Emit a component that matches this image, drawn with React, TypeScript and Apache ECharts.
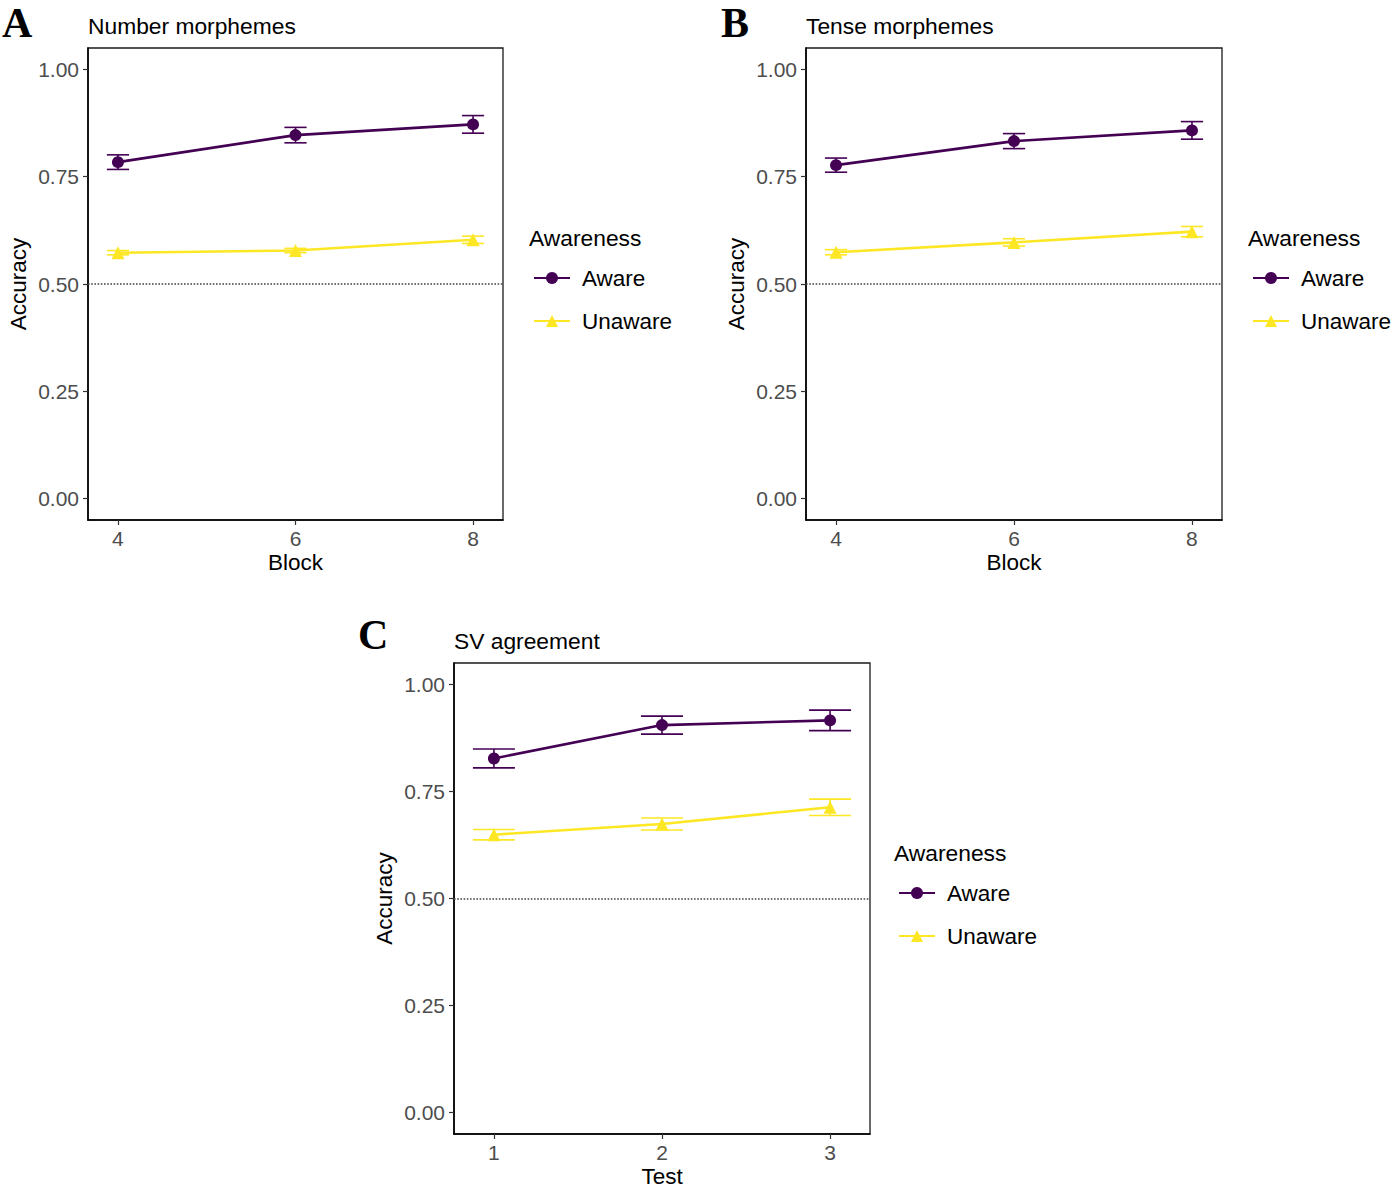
import React, { useEffect, useRef } from "react";
import * as echarts from "echarts";

// ---- data ----
const blocks = [4, 6, 8];
const tests = [1, 2, 3];
const yTicks = [0, 0.25, 0.5, 0.75, 1];
const chance = 0.5;

const numberAware = [0.784, 0.847, 0.872];
const numberAwareSE = [0.017, 0.018, 0.0205];
const numberUnaware = [0.573, 0.578, 0.603];
const numberUnawareSE = [0.005, 0.005, 0.0085];

const tenseAware = [0.777, 0.833, 0.858];
const tenseAwareSE = [0.0165, 0.0175, 0.0205];
const tenseUnaware = [0.574, 0.597, 0.622];
const tenseUnawareSE = [0.006, 0.0085, 0.012];

const svAware = [0.827, 0.905, 0.916];
const svAwareSE = [0.022, 0.021, 0.024];
const svUnaware = [0.649, 0.674, 0.713];
const svUnawareSE = [0.012, 0.014, 0.019];

const AWARE = "#440154";
const UNAWARE = "#FDE725";
const FONT = "'Liberation Sans', Arial, sans-serif";
const ERR_HALF = 0.125;

const panels = [
  {
    letter: "A", title: "Number morphemes", xs: blocks, xName: "Block",
    aware: numberAware, awareSE: numberAwareSE, unaware: numberUnaware, unawareSE: numberUnawareSE,
    grid: { left: 88, top: 48, width: 415, height: 472 }, legend: { left: 533, top: 266 },
    letterPos: [2, 2],
  },
  {
    letter: "B", title: "Tense morphemes", xs: blocks, xName: "Block",
    aware: tenseAware, awareSE: tenseAwareSE, unaware: tenseUnaware, unawareSE: tenseUnawareSE,
    grid: { left: 806, top: 48, width: 416, height: 472 }, legend: { left: 1252, top: 266 },
    letterPos: [721, 2],
  },
  {
    letter: "C", title: "SV agreement", xs: tests, xName: "Test",
    aware: svAware, awareSE: svAwareSE, unaware: svUnaware, unawareSE: svUnawareSE,
    grid: { left: 454, top: 663, width: 416, height: 473 }, legend: { left: 898, top: 881 },
    letterPos: [358, 614],
  },
];

function errRender(color: string) {
  return (params: any, api: any) => {
    const x = api.value(0);
    const lo = api.value(1);
    const hi = api.value(2);
    const pLo = api.coord([x, lo]);
    const pHi = api.coord([x, hi]);
    const half = api.coord([x + ERR_HALF, lo])[0] - pLo[0];
    const style = { stroke: color, lineWidth: 1.6, fill: "none" };
    return {
      type: "group",
      children: [
        { type: "line", shape: { x1: pLo[0], y1: pLo[1], x2: pHi[0], y2: pHi[1] }, style },
        { type: "line", shape: { x1: pLo[0] - half, y1: pLo[1], x2: pLo[0] + half, y2: pLo[1] }, style },
        { type: "line", shape: { x1: pHi[0] - half, y1: pHi[1], x2: pHi[0] + half, y2: pHi[1] }, style },
      ],
    };
  };
}

function buildOption() {
  const grid: any[] = [];
  const xAxis: any[] = [];
  const yAxis: any[] = [];
  const series: any[] = [];
  const legend: any[] = [];
  const graphic: any[] = [];

  panels.forEach((p, i) => {
    grid.push({ ...p.grid, show: true, borderColor: "#1a1a1a", borderWidth: 1.3, backgroundColor: "#fff" });
    const lo = Math.min(...p.xs) - ERR_HALF;
    const hi = Math.max(...p.xs) + ERR_HALF;
    const pad = (hi - lo) * 0.05;
    xAxis.push({
      type: "value", gridIndex: i, min: lo - pad, max: hi + pad,
      name: p.xName, nameLocation: "middle", nameGap: 31,
      nameTextStyle: { fontSize: 22.5, color: "#000", fontFamily: FONT },
      axisLine: { show: true, onZero: false, lineStyle: { color: "#000", width: 1.6 } },
      axisTick: { show: true, length: 5, customValues: p.xs, lineStyle: { color: "#333", width: 1.2 } },
      axisLabel: { customValues: p.xs, fontSize: 21, color: "#4d4d4d", fontFamily: FONT, margin: 8 },
      splitLine: { show: false },
    });
    yAxis.push({
      type: "value", gridIndex: i, min: -0.05, max: 1.05,
      name: "Accuracy", nameLocation: "middle", nameGap: 58, nameRotate: 90,
      nameTextStyle: { fontSize: 22.5, color: "#000", fontFamily: FONT },
      axisLine: { show: true, onZero: false, lineStyle: { color: "#000", width: 1.6 } },
      axisTick: { show: true, length: 5, customValues: yTicks, lineStyle: { color: "#333", width: 1.2 } },
      axisLabel: {
        customValues: yTicks, fontSize: 21, color: "#4d4d4d", fontFamily: FONT, margin: 9,
        formatter: (v: number) => v.toFixed(2),
      },
      splitLine: { show: false },
    });
    series.push({
      type: "custom", name: "Aware SE", xAxisIndex: i, yAxisIndex: i,
      renderItem: errRender(AWARE), encode: { x: 0, y: [1, 2] },
      data: p.xs.map((x, k) => [x, p.aware[k] - p.awareSE[k], p.aware[k] + p.awareSE[k]]),
      z: 3, silent: true,
    });
    series.push({
      type: "custom", name: "Unaware SE", xAxisIndex: i, yAxisIndex: i,
      renderItem: errRender(UNAWARE), encode: { x: 0, y: [1, 2] },
      data: p.xs.map((x, k) => [x, p.unaware[k] - p.unawareSE[k], p.unaware[k] + p.unawareSE[k]]),
      z: 3, silent: true,
    });
    series.push({
      type: "line", name: "Aware", xAxisIndex: i, yAxisIndex: i,
      data: p.xs.map((x, k) => [x, p.aware[k]]),
      symbol: "circle", symbolSize: 12, showSymbol: true,
      lineStyle: { color: AWARE, width: 2.6 }, itemStyle: { color: AWARE }, z: 4,
    });
    series.push({
      type: "line", name: "Unaware", xAxisIndex: i, yAxisIndex: i,
      data: p.xs.map((x, k) => [x, p.unaware[k]]),
      symbol: "triangle", symbolSize: 13, showSymbol: true,
      lineStyle: { color: UNAWARE, width: 2.6 }, itemStyle: { color: UNAWARE }, z: 4,
      markLine: {
        silent: true, symbol: ["none", "none"], label: { show: false },
        lineStyle: { type: "dotted", color: "#444", width: 1.6 },
        data: [{ yAxis: chance }], z: 2,
      },
    });
    legend.push({
      left: p.legend.left, top: p.legend.top, orient: "vertical", padding: 0,
      itemWidth: 36, itemHeight: 15, itemGap: 19, selectedMode: false,
      data: ["Aware", "Unaware"],
      textStyle: { fontSize: 22.5, color: "#000", fontFamily: FONT, padding: [0, 0, 0, 7], lineHeight: 24 },
    });
    graphic.push({
      type: "text", left: p.legend.left - 4, top: p.legend.top - 40,
      style: { text: "Awareness", fontSize: 22.8, fill: "#000", fontFamily: FONT },
    });
    graphic.push({
      type: "text", left: p.grid.left, top: p.grid.top - 34,
      style: { text: p.title, fontSize: 22.8, fill: "#000", fontFamily: FONT },
    });
    graphic.push({
      type: "text", left: p.letterPos[0], top: p.letterPos[1],
      style: { text: p.letter, font: "bold 42px 'Liberation Serif', 'Times New Roman', serif", fill: "#000" },
    });
  });

  return { animation: false, backgroundColor: "#fff", grid, xAxis, yAxis, series, legend, graphic };
}

export default function App() {
  const ref = useRef<HTMLDivElement>(null);
  useEffect(() => {
    document.body.style.margin = "0";
    const chart = echarts.init(ref.current!, null, { renderer: "svg" });
    chart.setOption(buildOption() as any);
    return () => chart.dispose();
  }, []);
  return <div ref={ref} style={{ width: 1393, height: 1189 }} />;
}
